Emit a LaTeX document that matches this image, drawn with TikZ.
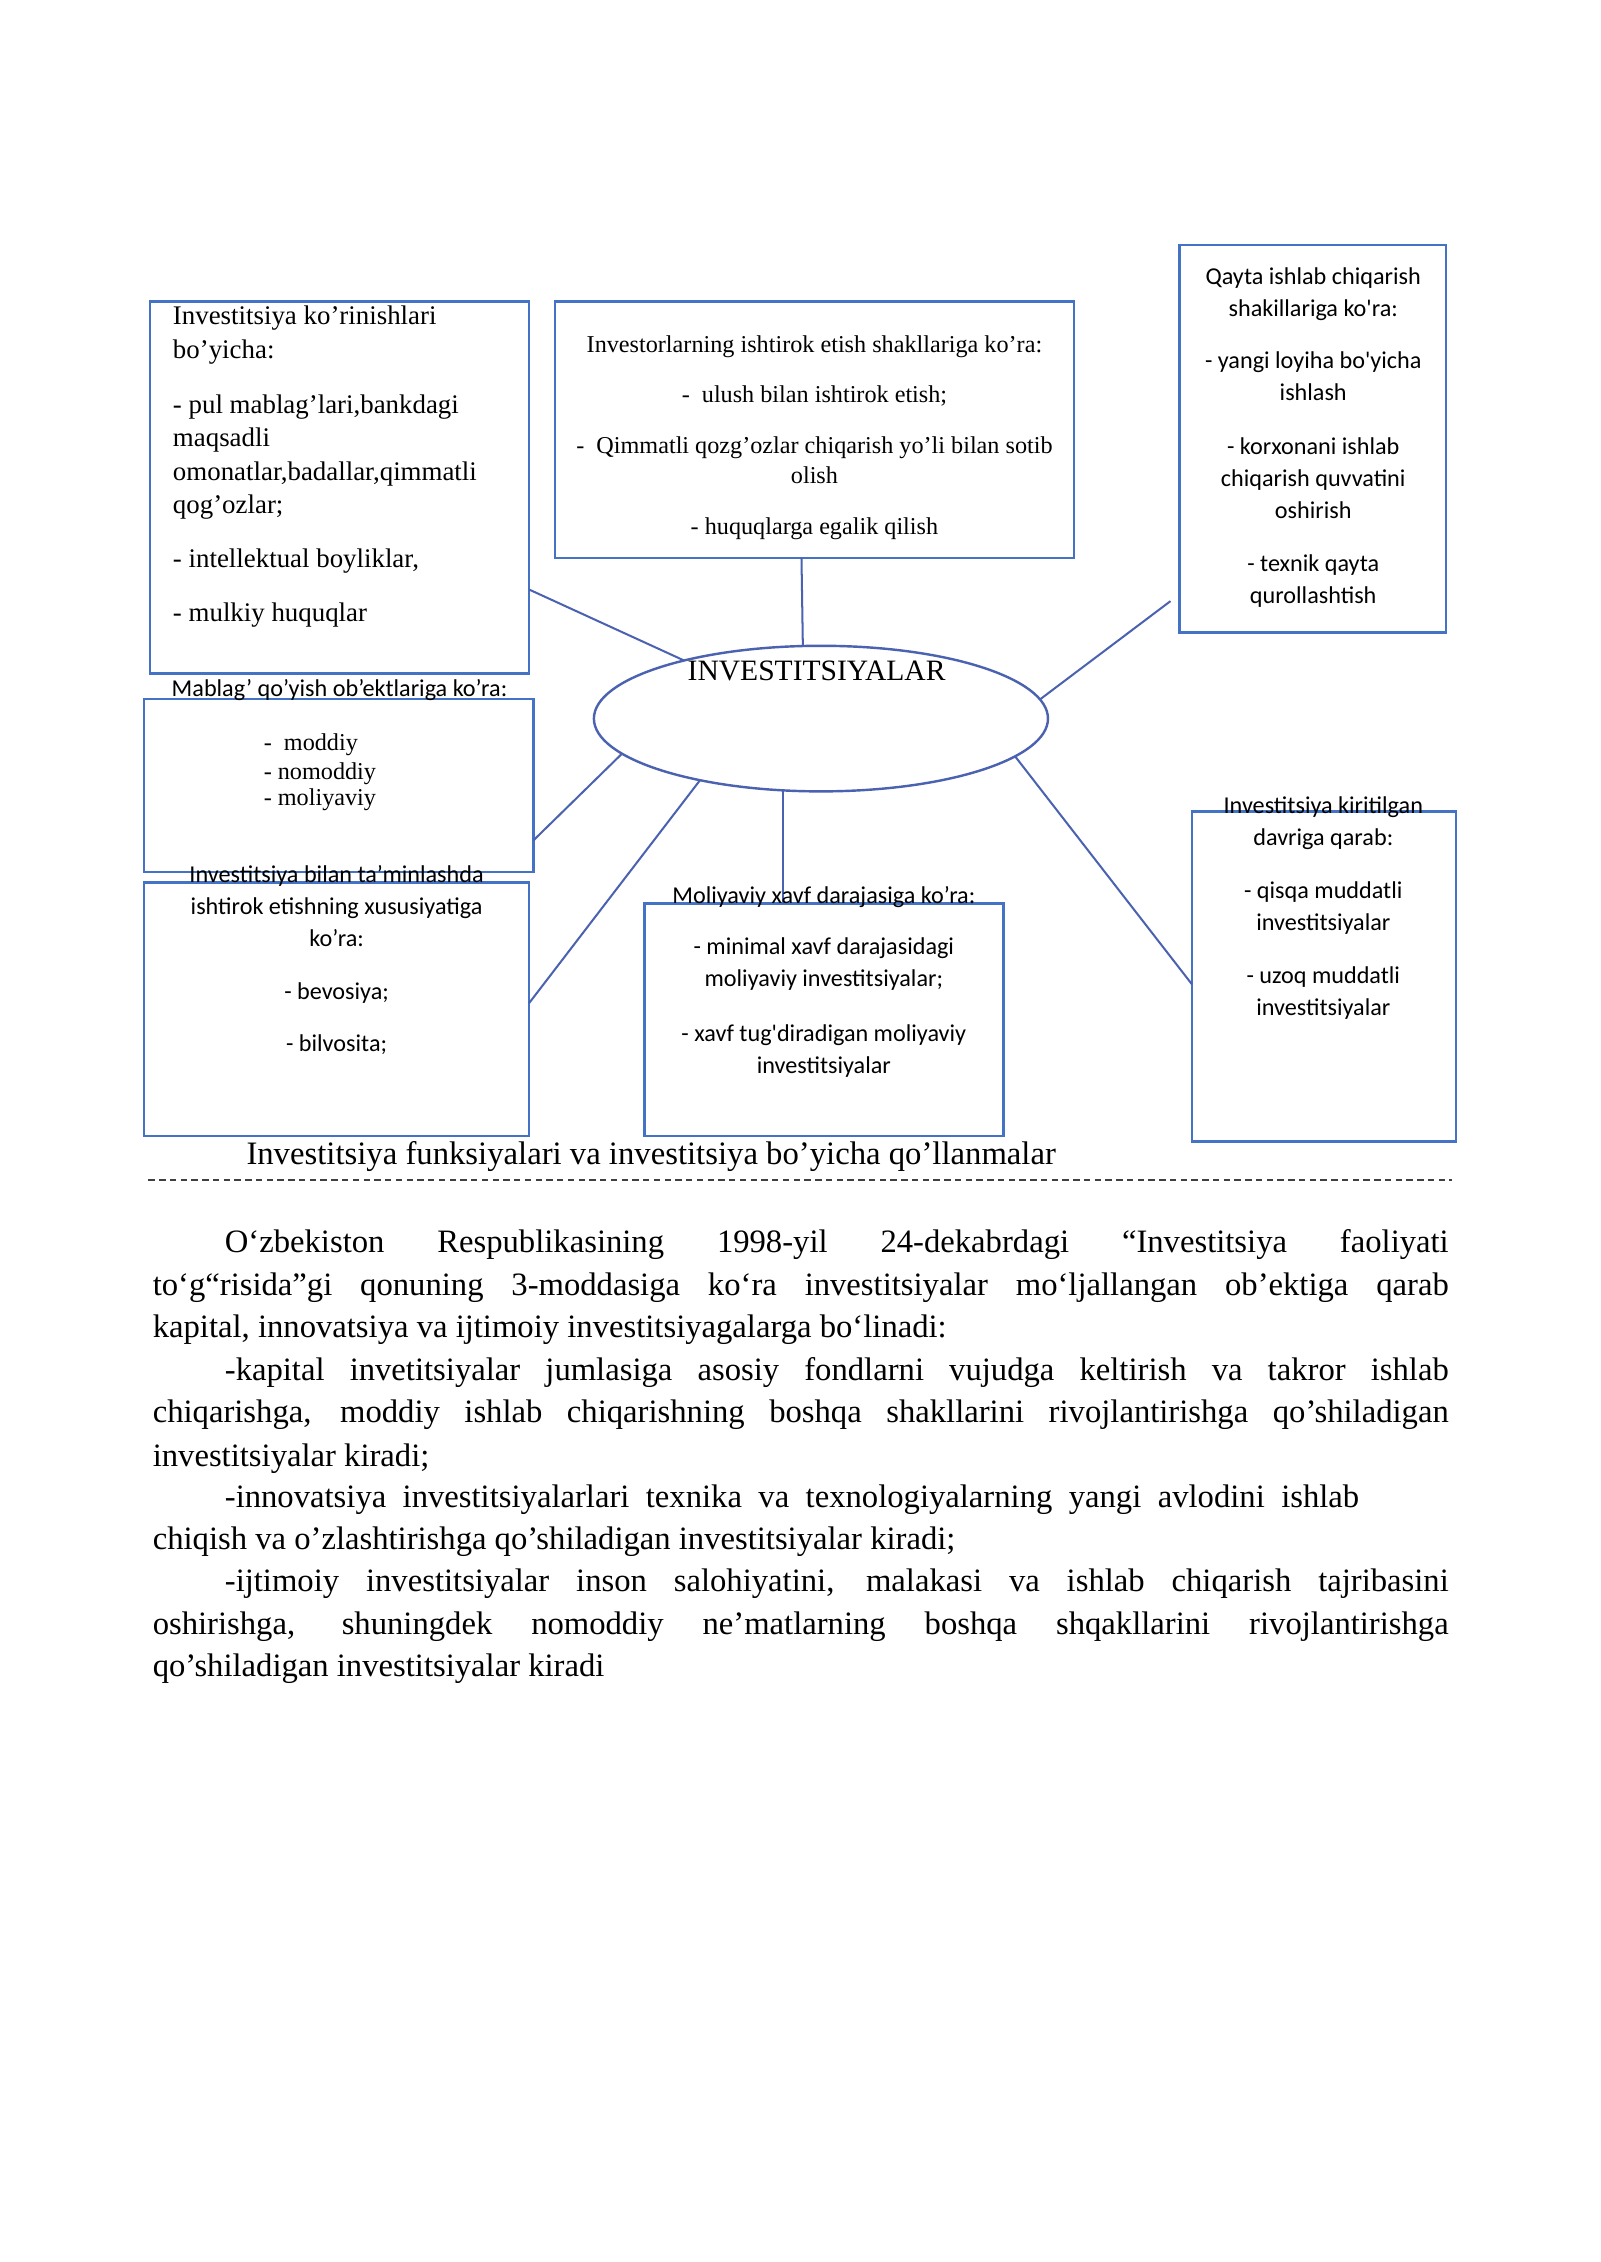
\documentclass[tikz,border=0pt]{standalone}
\usepackage{fontspec}
\setmainfont{Liberation Serif}
\newfontfamily\carl{Carlito}
\usetikzlibrary{shapes.geometric,calc}
\definecolor{boxblue}{HTML}{4472C4}
\definecolor{lineblue}{HTML}{4B62B0}
\newcommand{\U}{0.53631pt}
\newcommand{\bx}[5]{\node[boxstyle,minimum width={#4*\U},minimum height={#5*\U}] (#1) at (#2,#3) {};}
\begin{document}
\begin{tikzpicture}[x=0.53631pt,y=-0.53631pt,
  boxstyle/.style={draw=boxblue,line width=1pt,rectangle,inner sep=0pt,outer sep=0pt,anchor=north west},
  conn/.style={draw=lineblue,line width=0.75pt},
  sr10/.style={inner sep=0pt,outer sep=0pt,font=\fontsize{10}{12}\selectfont},
  sr11/.style={inner sep=0pt,outer sep=0pt,font=\fontsize{11}{13}\selectfont},
  sr9/.style={inner sep=0pt,outer sep=0pt,font=\fontsize{9}{11}\selectfont},
  sr12/.style={inner sep=0pt,outer sep=0pt,font=\fontsize{12.15}{14}\selectfont},
  ss/.style={inner sep=0pt,outer sep=0pt,font=\carl\fontsize{9}{11}\selectfont}]
\path[use as bounding box,fill=white] (0,0) rectangle (1110,1569.2);

% boxes
\bx{b1}{104}{209}{263}{258}
\bx{b2}{385}{209}{360}{178}
\bx{b3}{818}{170}{185}{269}
\bx{b4}{100}{485}{270}{120}
\bx{b5}{100}{612}{267}{176}
\bx{b6}{447}{627}{249}{161}
\bx{b7}{827}{563}{183}{229}
\node[ellipse,draw=lineblue,line width=0.9pt,minimum width={315*\U},minimum height={101*\U},inner sep=0pt,outer sep=0pt] (e) at (569.5,498.5) {};

% connectors
\coordinate (c3) at ($(b3.south west)+(-6,-22)$);
\draw[conn] ($(b1.north east)!0.775!(b1.south east)$) -- (e.157.4);
\draw[conn] ($(b2.south west)!0.475!(b2.south east)$) -- (e.104);
\draw[conn] (c3) -- (e.5.5);
\draw[conn] ($(b4.north east)!0.817!(b4.south east)$) -- (e.190.3);
\draw[conn] ($(b5.north east)!0.477!(b5.south east)$) -- (e.207);
\draw[conn] (e.242.9) -- (e.242.9 |- b6.north);
\draw[conn] ($(b7.north west)!0.524!(b7.south west)$) -- (e.349.5);

% ellipse text
\node[sr11,anchor=base] (etxt) at (566.5,472) {INVESTITSIYALAR};

% box 1 text
\foreach \yy/\lbl [count=\i] in {218/{Investitsiya ko’rinishlari},242/{bo’yicha:},280/{- pul mablag’lari,bankdagi},303/{maqsadli},326/{omonatlar,badallar,qimmatli},349/{qog’ozlar;},387/{- intellektual boyliklar,},424/{- mulkiy huquqlar}}
  \node[sr10,anchor=base west] (ta\i) at (120,\yy+7) {\lbl};

% box 2 text
\foreach \yy/\lbl [count=\i] in {238/{Investorlarning ishtirok etish shakllariga ko’ra:},273/{-\ \ ulush bilan ishtirok etish;},308/{-\ \ Qimmatli qozg’ozlar chiqarish yo’li bilan sotib},329/{olish},364/{- huquqlarga egalik qilish}}
  \node[sr9,anchor=base] (tb\i) at (565,\yy+6.5) {\lbl};

% box 3 text
\foreach \yy/\lbl [count=\i] in {191/{Qayta ishlab chiqarish},213/{shakillariga ko\textquotesingle ra:},249/{- yangi loyiha bo\textquotesingle yicha},271/{ishlash},309/{- korxonani ishlab},331/{chiqarish quvvatini},353/{oshirish},390/{- texnik qayta},412/{qurollashtish}}
  \node[ss,anchor=base] (tc\i) at (911,\yy+6.5) {\lbl};

% box 4 label and text
\node[ss,anchor=base] (td0) at (235.5,483.5) {Mablag’ qo’yish ob’ektlariga ko’ra:};
\foreach \yy/\lbl [count=\i] in {514/{-\ \ moddiy},534/{- nomoddiy},552/{- moliyaviy}}
  \node[sr9,anchor=base west] (td\i) at (183,\yy+6.5) {\lbl};

% box 5 text
\foreach \yy/\lbl [count=\i] in {606/{Investitsiya bilan ta’minlashda},628/{ishtirok etishning xususiyatiga},650/{ko’ra:},687/{- bevosiya;},723/{- bilvosita;}}
  \node[ss,anchor=base] (te\i) at (233.5,\yy+6.5) {\lbl};

% box 6 text
\foreach \yy/\lbl [count=\i] in {620/{Moliyaviy xavf darajasiga ko’ra:},656/{- minimal xavf darajasidagi},678/{moliyaviy investitsiyalar;},716/{- xavf tug\textquotesingle diradigan moliyaviy},738/{investitsiyalar}}
  \node[ss,anchor=base] (tf\i) at (571.5,\yy+6.5) {\lbl};

% box 7 text
\foreach \yy/\lbl [count=\i] in {558/{Investitsiya kiritilgan},580/{davriga qarab:},617/{- qisqa muddatli},639/{investitsiyalar},676/{- uzoq muddatli},698/{investitsiyalar}}
  \node[ss,anchor=base] (tg\i) at (918,\yy+6.5) {\lbl};

% caption and dashed rule
\node[sr12,anchor=base west,font=\fontsize{12.17}{14}\selectfont] (cap) at (171,808) {Investitsiya funksiyalari va investitsiya bo’yicha qo’llanmalar};
\coordinate (d1) at (103,818.5);
\coordinate (d2) at (1007,818.5);
\draw[black!75,line width=0.5pt,dash pattern=on 2.4pt off 1.6pt] (d1) -- (d2);

% paragraph
\node[sr12,anchor=base west] (p1) at (156,869) {\makebox[455.33pt][s]{O‘zbekiston Respublikasining 1998-yil 24-dekabrdagi “Investitsiya faoliyati}};
\node[sr12,anchor=base west] (p2) at (106,899) {\makebox[482.14pt][s]{to‘g“risida”gi qonuning 3-moddasiga ko‘ra investitsiyalar mo‘ljallangan ob’ektiga qarab}};
\node[sr12,anchor=base west] (p3) at (106,928) {kapital, innovatsiya va ijtimoiy investitsiyagalarga bo‘linadi:};
\node[sr12,anchor=base west] (p4) at (156,958) {\makebox[455.33pt][s]{-kapital invetitsiyalar jumlasiga asosiy fondlarni vujudga keltirish va takror ishlab}};
\node[sr12,anchor=base west] (p5) at (106,987) {\makebox[482.14pt][s]{chiqarishga, moddiy ishlab chiqarishning boshqa shakllarini rivojlantirishga qo’shiladigan}};
\node[sr12,anchor=base west] (p6) at (106,1017) {investitsiyalar kiradi;};
\node[sr12,anchor=base west] (p7) at (156,1046) {\makebox[422pt][s]{-innovatsiya investitsiyalarlari texnika va texnologiyalarning yangi avlodini ishlab}};
\node[sr12,anchor=base west] (p8) at (106,1075) {chiqish va o’zlashtirishga qo’shiladigan investitsiyalar kiradi;};
\node[sr12,anchor=base west] (p9) at (156,1104) {\makebox[455.33pt][s]{-ijtimoiy investitsiyalar inson salohiyatini, malakasi va ishlab chiqarish tajribasini}};
\node[sr12,anchor=base west] (p10) at (106,1134) {\makebox[482.14pt][s]{oshirishga, shuningdek nomoddiy ne’matlarning boshqa shqakllarini rivojlantirishga}};
\node[sr12,anchor=base west] (p11) at (106,1163) {qo’shiladigan investitsiyalar kiradi};
\end{tikzpicture}
\end{document}
